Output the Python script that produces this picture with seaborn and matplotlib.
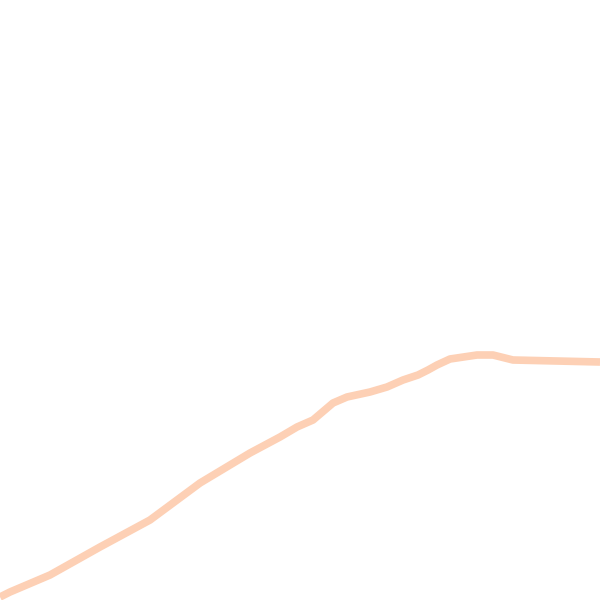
import matplotlib
matplotlib.use("Agg")
import matplotlib.pyplot as plt
import seaborn as sns
import pandas as pd

# values (x to the right, y upward, 0..600 frame)
x_vals = [0, 10, 50, 100, 150, 200, 250, 280, 297, 313, 333, 347, 370, 387,
          403, 418, 428, 437, 450, 477, 493, 513, 600]
y_vals = [3, 8, 25, 53, 80, 117, 147, 163, 173, 180, 197, 203, 208, 213,
          220, 225, 230, 235, 241, 245, 245, 240, 238]

df = pd.DataFrame({"x": x_vals, "y": y_vals})

sns.set_theme(style="white")
fig = plt.figure(figsize=(6, 6), dpi=100)
ax = fig.add_axes([0, 0, 1, 1])
sns.lineplot(data=df, x="x", y="y", ax=ax, color="#fdd0b5", linewidth=5.5,
             sort=False, solid_capstyle="butt")
ax.set_xlim(0, 600)
ax.set_ylim(0, 600)
ax.axis("off")
fig.savefig("out.png", dpi=100)
plt.close(fig)
